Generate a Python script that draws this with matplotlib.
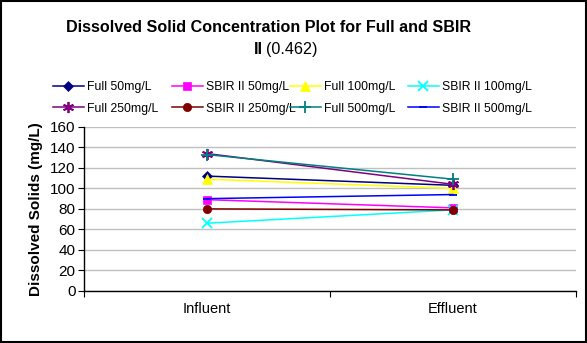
import numpy as np
import matplotlib.pyplot as plt
from matplotlib.patches import Rectangle

plt.rcParams['font.family'] = ['Liberation Sans', 'DejaVu Sans']

# Data
categories = ["Influent", "Effluent"]
series_names = ["Full 50mg/L", "SBIR II 50mg/L", "Full 100mg/L", "SBIR II 100mg/L",
                "Full 250mg/L", "SBIR II 250mg/L", "Full 500mg/L", "SBIR II 500mg/L"]
full_50 = [112, 103]
sbir_50 = [89, 81]
full_100 = [109, 100]
sbir_100 = [66, 79]
full_250 = [134, 104]
sbir_250 = [80, 79]
full_500 = [133, 109]
sbir_500 = [90, 94]
values = [full_50, sbir_50, full_100, sbir_100, full_250, sbir_250, full_500, sbir_500]

colors = ["#000080", "#FF00FF", "#FFFF00", "#00FFFF",
          "#800080", "#800000", "#008080", "#0000FF"]
markers = ["D", "s", "^", "x", (6, 2, 0), "o", "+", "_"]
msizes = [5, 6, 7, 7, 8, 6, 8, 6]

fig = plt.figure(figsize=(5.87, 3.43), dpi=100)
ax = fig.add_axes([0.143, 0.152, 0.838, 0.478])

x = np.arange(len(categories))
lines = []
for name, vals, c, m, ms in zip(series_names, values, colors, markers, msizes):
    ln, = ax.plot(x, vals, color=c, marker=m, markersize=ms, linewidth=1.1,
                  markeredgewidth=1.3 if m in ("x", "+", "_", (6, 2, 0)) else 0.5,
                  markeredgecolor=c, label=name)
    lines.append(ln)

ax.set_xlim(-0.5, 1.5)
ax.set_ylim(0, 160)
ax.set_yticks(np.arange(0, 161, 20))
ax.set_xticks([-0.5, 0.5, 1.5])
ax.set_xticklabels([])
ax.set_xticks(x, minor=True)
ax.set_xticklabels(categories, minor=True, fontsize=10.5)
ax.tick_params(axis='x', which='minor', length=0, pad=8)
ax.tick_params(axis='x', which='major', length=4, direction='out')
ax.tick_params(axis='y', labelsize=11, length=4, pad=2)
ax.grid(axis='y', color='#c0c0c0', linewidth=1)
ax.set_axisbelow(True)
for s in ['top', 'right']:
    ax.spines[s].set_visible(False)
ax.spines['left'].set_linewidth(1)
ax.spines['bottom'].set_linewidth(1)

ax.set_ylabel("Dissolved Solids (mg/L)", fontsize=11, fontweight='bold', labelpad=5)

# Title
fig.text(0.457, 0.92, "Dissolved Solid Concentration Plot for Full and SBIR",
         ha='center', va='center', fontsize=11.6, fontweight='bold')
fig.text(0.447, 0.857, "II", ha='right', va='center', fontsize=11.6, fontweight='bold')
fig.text(0.453, 0.857, "(0.462)", ha='left', va='center', fontsize=11.6)

# legend: 4 equal-width columns, 2 rows (filled row by row)
col_x = [53, 172, 290, 408]
for j in range(4):
    idx = [j, j + 4]
    leg = fig.legend([lines[i] for i in idx], [series_names[i] for i in idx],
                     loc='center left', bbox_to_anchor=(col_x[j] / 587, 1 - 98 / 343),
                     frameon=False, fontsize=8.8, handlelength=2.5, handletextpad=0.3,
                     labelspacing=0.75, borderaxespad=0, borderpad=0)

fig.add_artist(Rectangle((0.002, 0.003), 0.996, 0.994, transform=fig.transFigure,
                         fill=False, edgecolor='black', linewidth=1.5))

fig.savefig("out.png", dpi=100)
